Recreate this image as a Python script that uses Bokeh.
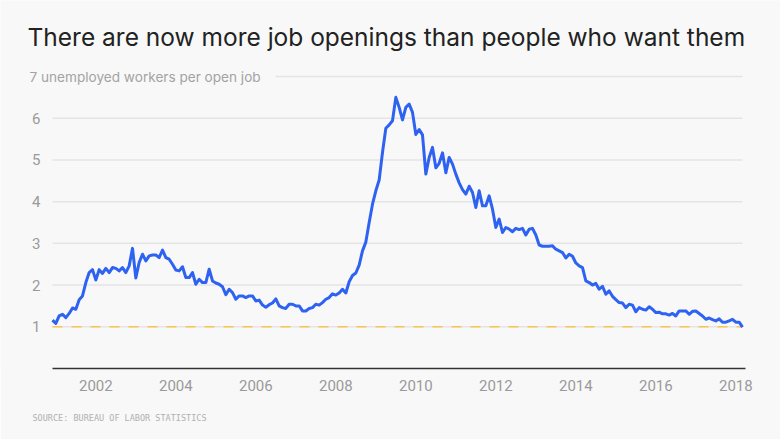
import pandas as pd
from bokeh.plotting import figure
from bokeh.models import Range1d, FixedTicker, Label, Title
from bokeh.core.properties import value
from bokeh.embed import file_html
from bokeh.resources import INLINE

# Unemployed workers per job opening, monthly, Dec 2000 - Mar 2018
start_month = "2000-12-01"
r2000 = [1.16]
r2001 = [1.08, 1.26, 1.30, 1.22, 1.32, 1.45, 1.42, 1.65, 1.74, 2.06, 2.30, 2.37]
r2002 = [2.12, 2.37, 2.28, 2.40, 2.30, 2.42, 2.40, 2.34, 2.42, 2.30, 2.46, 2.88]
r2003 = [2.17, 2.54, 2.74, 2.58, 2.70, 2.72, 2.72, 2.66, 2.84, 2.66, 2.62, 2.50]
r2004 = [2.36, 2.34, 2.44, 2.18, 2.18, 2.30, 2.02, 2.14, 2.06, 2.06, 2.38, 2.10]
r2005 = [2.05, 2.02, 1.96, 1.77, 1.90, 1.82, 1.66, 1.74, 1.74, 1.70, 1.74, 1.74]
r2006 = [1.62, 1.64, 1.52, 1.47, 1.53, 1.57, 1.67, 1.50, 1.46, 1.44, 1.54, 1.54]
r2007 = [1.50, 1.50, 1.38, 1.38, 1.44, 1.46, 1.54, 1.52, 1.58, 1.66, 1.70, 1.79]
r2008 = [1.76, 1.81, 1.90, 1.81, 2.08, 2.23, 2.29, 2.48, 2.82, 3.03, 3.50, 3.94]
r2009 = [4.26, 4.52, 5.18, 5.76, 5.84, 5.94, 6.50, 6.26, 5.96, 6.26, 6.34, 6.14]
r2010 = [5.61, 5.73, 5.60, 4.66, 5.06, 5.30, 4.81, 4.92, 5.17, 4.69, 5.06, 4.90]
r2011 = [4.66, 4.45, 4.29, 4.18, 4.37, 4.22, 3.86, 4.26, 3.90, 3.90, 4.14, 3.82]
r2012 = [3.38, 3.58, 3.26, 3.38, 3.34, 3.28, 3.36, 3.33, 3.36, 3.20, 3.34, 3.36]
r2013 = [3.20, 2.96, 2.93, 2.93, 2.93, 2.94, 2.86, 2.82, 2.78, 2.65, 2.74, 2.69]
r2014 = [2.53, 2.46, 2.42, 2.10, 2.06, 2.00, 2.04, 1.90, 1.97, 1.78, 1.86, 1.73]
r2015 = [1.65, 1.58, 1.57, 1.46, 1.54, 1.52, 1.36, 1.46, 1.42, 1.40, 1.48, 1.42]
r2016 = [1.34, 1.35, 1.31, 1.31, 1.28, 1.32, 1.26, 1.38, 1.38, 1.38, 1.30, 1.37]
r2017 = [1.38, 1.32, 1.26, 1.18, 1.21, 1.17, 1.14, 1.19, 1.11, 1.11, 1.14, 1.18]
r2018 = [1.11, 1.11, 0.99]

year_ticks = [2002, 2004, 2006, 2008, 2010, 2012, 2014, 2016, 2018]
value_ticks = [1, 2, 3, 4, 5, 6]
top_value = 7
reference_level = 1

title_text = "There are now more job openings than people who want them"
unit_text = "7 unemployed workers per open job"
source_text = "SOURCE: BUREAU OF LABOR STATISTICS"

ratio = (r2000 + r2001 + r2002 + r2003 + r2004 + r2005 + r2006 + r2007 + r2008
         + r2009 + r2010 + r2011 + r2012 + r2013 + r2014 + r2015 + r2016
         + r2017 + r2018)
months = pd.date_range(start_month, periods=len(ratio), freq="MS")
xs = list(months.year + (months.month - 1) / 12.0)
x0, x1 = xs[0], xs[-1]

# ---- layout (pixels) ----
W, H = 780, 439
PLOT_L, PLOT_R = 52, 742       # where the data starts / ends
AXIS_Y, TOP_Y = 368, 76        # pixel rows of value 0 and value 7
TOP_LINE_L = 275               # top grid line starts after the unit text
px_per_year = (PLOT_R - PLOT_L) / (x1 - x0)
px_per_unit = (AXIS_Y - TOP_Y) / top_value

BG = "#f8f8f8"
GRID = "#e4e4e4"
TICK = "#9a9a9a"
BLUE = "#2e63f2"

p = figure(width=W, height=H, output_backend="svg", toolbar_location=None,
           y_axis_location=None,
           x_range=Range1d(x0 - PLOT_L / px_per_year, x1 + (W - PLOT_R) / px_per_year),
           y_range=Range1d(0, AXIS_Y / px_per_unit),
           min_border_left=0, min_border_right=0, min_border_top=0,
           min_border_bottom=H - AXIS_Y)
p.background_fill_color = BG
p.border_fill_color = BG
p.outline_line_color = None
p.xgrid.grid_line_color = None
p.ygrid.grid_line_color = None

# x axis (real axis, line limited to the data span)
p.xaxis.ticker = FixedTicker(ticks=year_ticks)
p.xaxis.bounds = (x0, x1 + 3.0 / px_per_year)
p.xaxis.axis_line_color = "#333333"
p.xaxis.axis_line_width = 1.5
p.xaxis.major_tick_line_color = None
p.xaxis.minor_tick_line_color = None
p.xaxis.major_tick_out = 0
p.xaxis.major_tick_in = 0
p.xaxis.major_label_text_font = "Roboto"
p.xaxis.major_label_text_font_size = "15px"
p.xaxis.major_label_text_color = TICK
p.xaxis.major_label_standoff = 11

# horizontal grid lines over the data span
n = len(value_ticks)
p.segment(x0=[x0] * n, y0=value_ticks, x1=[x1] * n, y1=value_ticks,
          line_color=GRID, line_width=1.5)
top_start = x0 + (TOP_LINE_L - PLOT_L) / px_per_year
p.segment(x0=[top_start], y0=[top_value], x1=[x1], y1=[top_value],
          line_color=GRID, line_width=1.5)
p.segment(x0=[x0], y0=[reference_level], x1=[x1], y1=[reference_level],
          line_color="#f7c64f", line_width=1.5, line_dash="10 9")

# y tick labels
p.text(x=[x0] * n, y=value_ticks, text=[str(v) for v in value_ticks],
       x_offset=-12, text_align="right", text_baseline="middle",
       text_font=value("Roboto"), text_font_size="15px", text_color=TICK)

# data line
p.line(xs, ratio, line_color=BLUE, line_width=3, line_join="round")

# texts
p.add_layout(Label(x=x0, y=top_value, x_offset=27 - PLOT_L, y_offset=TOP_Y - 36,
                   text=title_text, text_font="Inter", text_font_size="24.5px",
                   text_color="#222222", text_baseline="middle"))
p.add_layout(Label(x=x0, y=top_value, x_offset=29 - PLOT_L, y_offset=0,
                   text=unit_text, text_font="Inter", text_font_size="13.6px",
                   text_color="#a3a3a3", text_baseline="middle"))
p.add_layout(Title(text=source_text, align="left", offset=32,
                   text_font="DejaVu Sans Mono", text_font_size="8.5px",
                   text_font_style="normal", text_color="#b0b0b0",
                   standoff=34), "below")

open("out.html", "w").write(file_html(p, INLINE))
